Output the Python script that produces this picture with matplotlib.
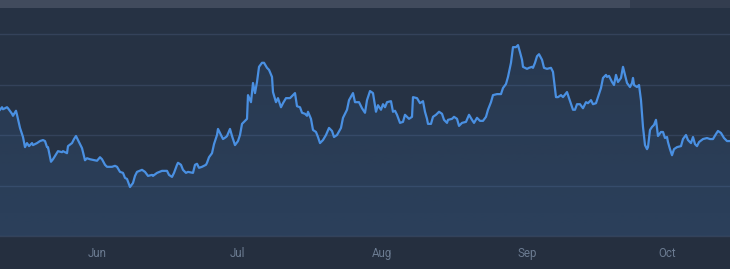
import matplotlib
matplotlib.use("Agg")
import matplotlib.pyplot as plt
import matplotlib.dates as mdates
import numpy as np
from datetime import datetime, timedelta
from matplotlib.patches import Rectangle

# ---------------- data ----------------
start = datetime(2024, 5, 11, 6)
span_days = 156.22

day_offsets = [
    0.00, 0.43, 0.64, 1.50, 1.71, 2.57, 2.78, 3.42, 3.64, 4.28, 4.92, 5.35, 5.78, 6.21, 6.85, 7.06,
    7.92, 8.56, 9.20, 9.63, 10.06, 10.27, 10.91, 11.34, 12.41, 13.27, 13.48, 14.34, 14.55, 15.41,
    15.84, 16.26, 16.69, 17.55, 18.19, 18.62, 19.26, 20.33, 20.76, 21.40, 21.83, 22.47, 22.90,
    23.97, 24.61, 25.04, 25.68, 26.32, 26.75, 27.18, 27.82, 28.46, 28.89, 29.32, 30.39, 31.03,
    31.67, 32.53, 32.74, 33.60, 34.67, 35.74, 36.17, 36.81, 37.24, 37.88, 38.09, 38.73, 39.16,
    39.80, 40.23, 41.30, 41.73, 42.16, 42.59, 43.23, 44.08, 44.30, 44.73, 45.37, 45.80, 46.44,
    46.65, 47.08, 47.72, 48.36, 48.58, 49.22, 49.65, 50.29, 50.93, 51.36, 51.79, 52.22, 52.86,
    53.07, 53.71, 54.14, 54.57, 55.00, 55.43, 56.07, 56.50, 57.14, 57.57, 58.21, 58.42, 59.06,
    59.49, 60.13, 60.56, 61.20, 62.06, 62.70, 63.13, 63.56, 64.20, 64.63, 65.27, 65.70, 65.91,
    66.55, 66.98, 67.62, 68.05, 68.48, 69.12, 69.76, 70.41, 71.05, 71.48, 72.12, 72.97, 73.40,
    74.26, 74.69, 75.54, 75.97, 76.83, 77.47, 78.11, 78.54, 79.18, 79.82, 80.46, 80.89, 81.53,
    81.96, 82.39, 82.82, 83.67, 84.10, 84.53, 84.96, 85.60, 86.24, 86.67, 87.10, 87.53, 88.17,
    88.38, 89.24, 89.88, 90.52, 90.95, 91.38, 91.59, 92.23, 92.66, 93.30, 93.95, 94.59, 95.02,
    95.66, 95.87, 96.73, 97.16, 97.80, 98.23, 98.87, 99.72, 100.37, 101.01, 101.44, 102.08,
    102.72, 103.36, 104.00, 104.43, 105.07, 105.50, 106.36, 107.21, 107.64, 108.28, 108.71,
    109.35, 109.78, 110.42, 110.85, 111.28, 111.71, 111.92, 112.78, 113.21, 113.85, 114.06,
    114.49, 114.92, 115.35, 115.99, 116.42, 117.06, 117.91, 118.34, 118.98, 119.41, 120.05,
    120.48, 121.34, 121.77, 122.62, 123.05, 123.48, 124.12, 124.76, 125.40, 125.83, 126.47,
    126.90, 127.54, 127.97, 128.61, 129.04, 129.68, 129.90, 130.33, 130.97, 131.40, 131.82,
    132.25, 132.89, 133.32, 133.75, 134.18, 134.82, 135.25, 135.46, 135.68, 136.32, 136.75,
    137.17, 137.60, 138.03, 138.46, 138.67, 139.10, 139.53, 139.96, 140.38, 140.81, 141.45,
    141.88, 142.31, 142.74, 142.95, 143.38, 143.81, 144.24, 144.88, 145.73, 146.16, 146.80,
    147.23, 147.87, 148.30, 148.73, 149.16, 149.59, 150.44, 151.30, 151.94, 152.58, 153.22,
    153.65, 154.29, 154.94, 155.58, 156.22,
]

values = [
    25.0, 25.5, 25.1, 25.5, 25.3, 24.2, 23.8, 24.8, 24.0, 21.4, 19.6, 17.6, 18.4, 17.8, 18.4, 18.0,
    18.4, 18.8, 19.0, 18.8, 17.6, 17.6, 14.7, 15.2, 16.8, 16.6, 16.8, 16.4, 17.8, 18.4,
    19.2, 19.8, 19.0, 17.4, 15.0, 15.4, 15.2, 15.0, 14.9, 15.6, 15.2, 14.1, 13.7,
    13.7, 13.9, 13.7, 12.7, 12.5, 11.5, 11.3, 9.7, 10.5, 11.9, 12.7, 13.1, 12.7,
    11.9, 12.1, 11.9, 12.5, 12.9, 12.9, 12.1, 11.7, 12.5, 14.1, 14.5, 14.1, 13.1,
    12.5, 12.7, 12.5, 14.1, 14.3, 13.5, 13.7, 14.1, 14.5, 15.6, 16.4, 18.2, 20.0,
    21.2, 20.4, 19.2, 19.6, 19.8, 21.2, 19.8, 18.0, 18.8, 20.0, 22.2, 22.6, 23.2,
    27.9, 26.5, 30.3, 28.3, 30.5, 33.5, 34.3, 34.3, 33.3, 32.9, 31.5, 28.5, 26.5,
    27.3, 25.5, 26.3, 27.3, 27.3, 27.9, 28.3, 25.7, 25.5, 24.4, 24.2, 23.8, 24.6,
    23.2, 21.0, 20.6, 19.6, 18.4, 19.0, 20.0, 21.4, 20.8, 19.6, 20.0, 21.4, 23.4,
    25.0, 26.9, 28.3, 26.5, 26.5, 25.3, 24.4, 26.9, 28.7, 28.3, 24.6, 25.9, 25.0,
    26.1, 25.5, 26.5, 26.7, 24.6, 24.8, 24.0, 22.4, 22.6, 24.0, 23.6, 23.2, 23.6,
    27.5, 27.3, 26.3, 26.7, 24.6, 23.2, 22.2, 22.2, 23.6, 24.0, 24.6, 24.2, 23.0,
    22.4, 23.0, 23.2, 23.6, 23.2, 21.8, 22.4, 22.6, 24.0, 23.0, 22.4, 23.4,
    22.8, 22.8, 23.6, 25.0, 26.5, 27.9, 28.1, 28.1, 29.3, 30.1, 31.5,
    34.3, 37.4, 37.4, 37.8, 36.4, 34.9, 33.5, 33.1, 33.3, 33.5, 33.3,
    34.3, 35.6, 36.0, 34.9, 33.3, 33.1, 33.3, 32.5, 27.5, 27.5, 27.9,
    27.5, 28.5, 27.3, 25.0, 25.0, 26.1, 26.1, 25.3, 26.5, 26.3, 26.9,
    26.1, 26.3, 27.5, 29.3, 31.3, 31.9, 31.5, 31.7, 30.5, 29.9, 31.9,
    30.5, 31.3, 33.5, 31.9, 30.3, 29.5, 30.3, 31.3, 29.9, 29.5, 29.9,
    26.9, 21.6, 18.0, 17.2, 17.6, 21.0, 21.6, 22.0, 23.0, 19.8, 20.6,
    20.6, 19.4, 19.6, 18.6, 17.2, 16.0, 17.2, 17.6, 17.8, 19.2, 20.0,
    19.0, 18.4, 19.6, 18.2, 17.8, 18.6, 19.2, 19.4, 19.2, 19.2, 20.2,
    20.8, 20.4, 19.4, 18.8, 18.8,
]

tick_labels = ["Jun", "Jul", "Aug", "Sep", "Oct"]
tick_dates = [datetime(2024, m, 1) for m in range(6, 11)]
grid_values = [0, 10, 20, 30, 40]
y_max = 45.15

# ---------------- style ----------------
fig_bg = "#252f3f"
ax_bg = "#263244"
grid_c = "#34425a"
line_c = "#4a90e2"
label_c = "#6b7b91"

fig = plt.figure(figsize=(7.30, 2.69), dpi=100, facecolor=fig_bg)
W, H = 730, 269
ax = fig.add_axes([0, (H - 236) / H, 1, 228 / H])
ax.set_facecolor(ax_bg)

x = mdates.date2num([start + timedelta(days=d) for d in day_offsets])
x0 = mdates.date2num(start)
x1 = mdates.date2num(start + timedelta(days=span_days))

# gradient fill under the line
poly = ax.fill_between(x, values, 0, color="none", lw=0)
rgb = np.array(matplotlib.colors.to_rgb(line_c))
alpha = np.linspace(0.15, 0.06, 256)
img = np.zeros((256, 1, 4))
img[:, 0, :3] = rgb
img[:, 0, 3] = alpha
im = ax.imshow(img, extent=[x0, x1, 0, y_max], origin="lower", aspect="auto", zorder=1,
               interpolation="bilinear")
im.set_clip_path(poly.get_paths()[0], transform=ax.transData)

ax.plot(x, values, color=line_c, lw=1.6, zorder=3, solid_joinstyle="round")

ax.set_xlim(x0, x1)
ax.set_ylim(0, y_max)
ax.set_yticks(grid_values)
ax.yaxis.grid(True, color=grid_c, lw=1.0, zorder=0)
ax.set_axisbelow(True)
ax.tick_params(axis="y", left=False, labelleft=False)
ax.set_xticks(mdates.date2num(tick_dates))
ax.set_xticklabels(tick_labels, fontfamily="Roboto", fontsize=8.3, color=label_c)
ax.tick_params(axis="x", length=0, pad=8)
for s in ("left", "right", "top"):
    ax.spines[s].set_visible(False)
ax.spines["bottom"].set_color(grid_c)
ax.spines["bottom"].set_linewidth(1.0)

# top navigator bar
fig.patches.append(Rectangle((0, (H - 8) / H), 1, 8 / H, transform=fig.transFigure,
                             facecolor="#333d4f", edgecolor="none", zorder=5))
fig.patches.append(Rectangle((0, (H - 8) / H), 630 / W, 8 / H, transform=fig.transFigure,
                             facecolor="#414b5d", edgecolor="none", zorder=6))

fig.savefig("out.png", dpi=100, facecolor=fig_bg)
